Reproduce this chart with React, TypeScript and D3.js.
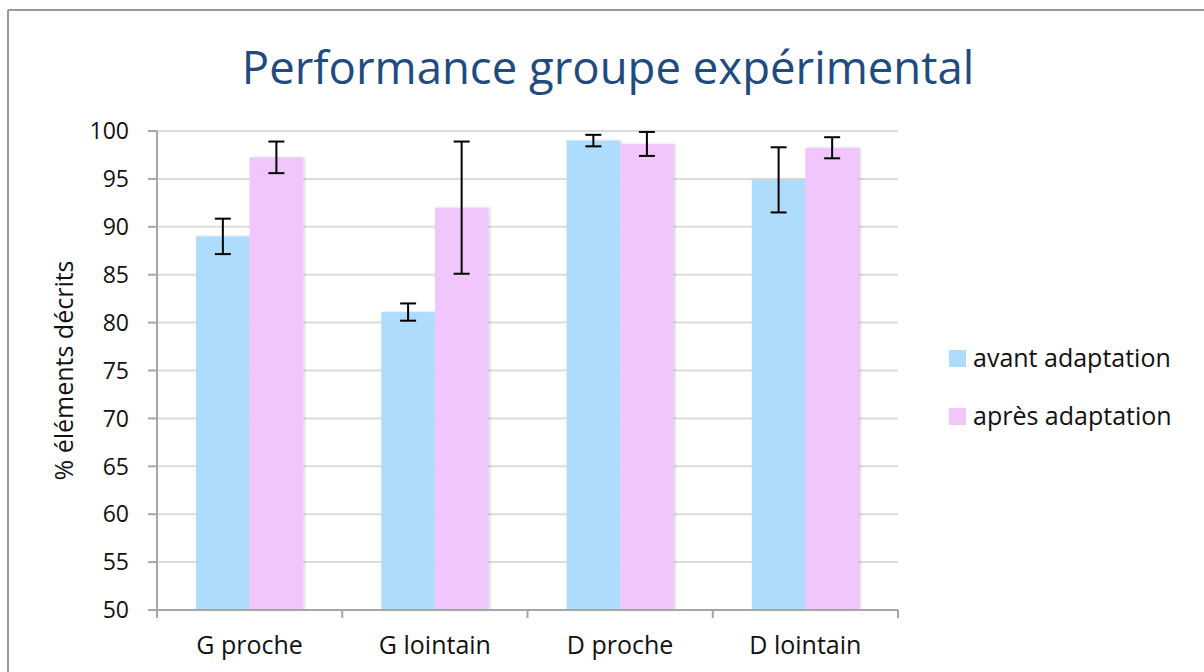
import * as d3 from "d3";

const categories = ["G proche", "G lointain", "D proche", "D lointain"];
const seriesNames = ["avant adaptation", "après adaptation"];
const avantValues = [89.0, 81.1, 99.0, 94.9];
const avantErrors = [1.85, 0.9, 0.6, 3.4];
const apresValues = [97.25, 92.0, 98.65, 98.25];
const apresErrors = [1.65, 6.9, 1.25, 1.1];
const yTicks = [50, 55, 60, 65, 70, 75, 80, 85, 90, 95, 100];

const COLORS = ["#addcfc", "#f0c6fc"];
const FONT = "'Open Sans', Lato, sans-serif";

const W = 1204;
const H = 672;
const MARGIN = { left: 157, right: 306, top: 131, bottom: 62 };

export default function App() {
  const innerW = W - MARGIN.left - MARGIN.right;
  const x = d3.scaleBand<string>().domain(categories).range([MARGIN.left, MARGIN.left + innerW]);
  const x1 = d3
    .scaleBand<string>()
    .domain(seriesNames)
    .range([0, x.bandwidth()])
    .paddingInner(0)
    .paddingOuter(0.73);
  const y = d3.scaleLinear().domain([50, 100]).range([H - MARGIN.bottom, MARGIN.top]);

  const series = [
    { name: seriesNames[0], values: avantValues, errors: avantErrors, color: COLORS[0] },
    { name: seriesNames[1], values: apresValues, errors: apresErrors, color: COLORS[1] },
  ];

  const x0 = MARGIN.left;
  const xEnd = MARGIN.left + innerW;
  const yBase = y(50);

  return (
    <div style={{ position: "absolute", left: 0, top: 0 }}>
      <svg width={W} height={H} style={{ display: "block", fontFamily: FONT }}>
        <defs>
          <filter id="shadow" x="-10%" y="-10%" width="130%" height="120%">
            <feDropShadow dx="1.5" dy="0" stdDeviation="1.2" floodColor="#000" floodOpacity="0.18" />
          </filter>
        </defs>
        <rect x={0} y={0} width={W} height={H} fill="#fff" />
        {/* outer frame */}
        <line x1={8} y1={10} x2={W} y2={10} stroke="#999" strokeWidth={2} />
        <line x1={8} y1={10} x2={8} y2={H} stroke="#999" strokeWidth={2} />

        <text x={608} y={84} textAnchor="middle" fontSize={45.5} fill="#1f4b7f">
          Performance groupe expérimental
        </text>

        {/* grid */}
        {yTicks.map((t) => (
          <line key={t} x1={x0} x2={xEnd} y1={y(t)} y2={y(t)} stroke="#dcdcdc" strokeWidth={2} />
        ))}

        {/* bars */}
        {categories.map((c, i) => (
          <g key={c}>
            {series.map((s) => (
              <rect
                key={s.name}
                x={(x(c) ?? 0) + (x1(s.name) ?? 0)}
                y={y(s.values[i])}
                width={x1.bandwidth()}
                height={yBase - y(s.values[i])}
                fill={s.color}
                filter="url(#shadow)"
              />
            ))}
          </g>
        ))}

        {/* error bars */}
        {categories.map((c, i) =>
          series.map((s) => {
            const cx = (x(c) ?? 0) + (x1(s.name) ?? 0) + x1.bandwidth() / 2;
            const hi = y(s.values[i] + s.errors[i]);
            const lo = y(s.values[i] - s.errors[i]);
            return (
              <g key={c + s.name} stroke="#000" strokeWidth={2}>
                <line x1={cx} x2={cx} y1={hi} y2={lo} />
                <line x1={cx - 8} x2={cx + 8} y1={hi} y2={hi} />
                <line x1={cx - 8} x2={cx + 8} y1={lo} y2={lo} />
              </g>
            );
          })
        )}

        {/* y axis */}
        <line x1={x0} x2={x0} y1={MARGIN.top} y2={yBase + 8} stroke="#a6a6a6" strokeWidth={2} />
        {yTicks.map((t) => (
          <g key={t}>
            <line x1={x0 - 9} x2={x0} y1={y(t)} y2={y(t)} stroke="#a6a6a6" strokeWidth={2} />
            <text x={129} y={y(t)} dy="0.36em" textAnchor="end" fontSize={23} fill="#111">
              {t}
            </text>
          </g>
        ))}

        {/* x axis */}
        <line x1={x0} x2={xEnd} y1={yBase} y2={yBase} stroke="#a6a6a6" strokeWidth={2} />
        {[...categories.map((c) => x(c) ?? 0), xEnd].map((px, i) => (
          <line key={i} x1={px} x2={px} y1={yBase} y2={yBase + 8} stroke="#a6a6a6" strokeWidth={2} />
        ))}
        {categories.map((c) => (
          <text
            key={c}
            x={(x(c) ?? 0) + x.bandwidth() / 2}
            y={654}
            textAnchor="middle"
            fontSize={25}
            fill="#111"
          >
            {c}
          </text>
        ))}

        <text
          transform={`translate(73, ${(MARGIN.top + yBase) / 2}) rotate(-90)`}
          textAnchor="middle"
          fontSize={25}
          fill="#111"
        >
          % éléments décrits
        </text>

        {/* legend */}
        {series.map((s, i) => (
          <g key={s.name} transform={`translate(949, ${350 + i * 58})`}>
            <rect x={0} y={0} width={17} height={17} fill={s.color} />
            <text x={24} y={17} fontSize={25} fill="#111">
              {s.name}
            </text>
          </g>
        ))}
      </svg>
    </div>
  );
}
